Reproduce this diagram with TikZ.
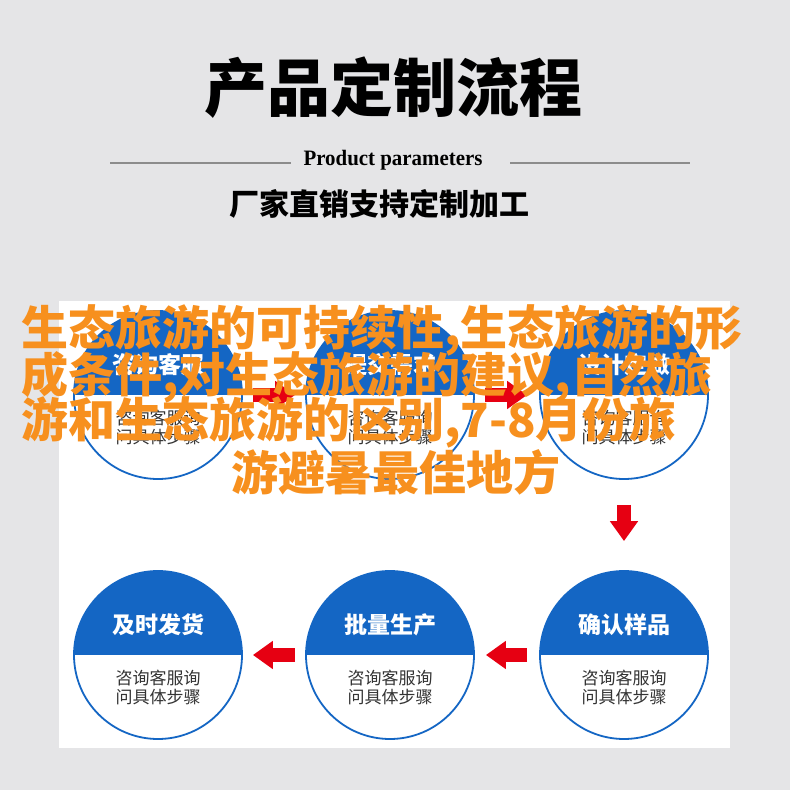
\documentclass[tikz,border=0pt]{standalone}
\usepackage{fontspec}
\setmainfont{Liberation Serif}
\newfontfamily\cjk{Noto Sans CJK SC}
\usetikzlibrary{arrows.meta}
\definecolor{bggray}{HTML}{E5E5E7}
\definecolor{cblue}{HTML}{1466C4}
\definecolor{ared}{HTML}{E60012}
\definecolor{orng}{HTML}{F7901E}
\definecolor{sub}{HTML}{333333}
\definecolor{rule}{HTML}{8C8C8C}
\tikzset{
  stage/.style={circle, draw=cblue, line width=1.8pt, minimum size=168pt, inner sep=0pt},
  head/.style={font=\cjk\bfseries\fontsize{23}{23}\selectfont, text=white, inner sep=0pt},
  body/.style={font=\cjk\fontsize{17}{19}\selectfont, text=sub, align=center, inner sep=0pt},
  blockarrow/.style={draw=ared, line width=14pt, -{Triangle[width=27pt,length=20pt]}},
  overlay/.style={font=\cjk\bfseries\fontsize{47}{47}\selectfont, text=orng, inner sep=0pt}
}
\begin{document}
\begin{tikzpicture}[x=1pt,y=1pt]
\fill[bggray] (0,0) rectangle (790,790);
\useasboundingbox (0,0) rectangle (790,790);
% header
\node[font=\cjk\bfseries\fontsize{63}{63}\selectfont, inner sep=0pt] (title) at (393,702) {产品定制流程};
\node[font=\bfseries\fontsize{22}{22}\selectfont, inner sep=0pt] (sub) at (393,630) {\scalebox{0.95}[1]{Product parameters}};
\coordinate (l1) at (110,627);
\coordinate (l2) at (291,627);
\coordinate (r1) at (510,627);
\coordinate (r2) at (690,627);
\draw[rule, line width=1.2pt] (l1) -- (l2);
\draw[rule, line width=1.2pt] (r1) -- (r2);
\node[font=\cjk\bfseries\fontsize{30}{30}\selectfont, inner sep=0pt] (tag) at (379,586) {厂家直销支持定制加工};
% panel
\fill[white] (59,42) rectangle (730,489);
% half fills
\foreach \x/\y in {158/395,390/395,624/395,158/135,390/135,624/135}{
  \fill[cblue] (\x+84,\y) arc[start angle=0,end angle=180,radius=84] -- cycle;
}
\node[stage] (c1) at (158,395) {};
\node[stage] (c2) at (390,395) {};
\node[stage] (c3) at (624,395) {};
\node[stage] (c4) at (158,135) {};
\node[stage] (c5) at (390,135) {};
\node[stage] (c6) at (624,135) {};
\node[head] (h1) at (158,425) {咨询客服};
\node[head] (h2) at (390,425) {提交需求};
\node[head] (h3) at (624,425) {设计定做};
\node[head] (h4) at (158,165) {及时发货};
\node[head] (h5) at (390,165) {批量生产};
\node[head] (h6) at (624,165) {确认样品};
\foreach \n/\x/\y in {b1/158/395,b2/390/395,b3/624/395,b4/158/135,b5/390/135,b6/624/135}{
  \node[body] (\n) at (\x,\y-32) {咨询客服询\\问具体步骤};
}
% arrows
\draw[blockarrow] ([xshift=10pt]c1.east) -- ([xshift=-10pt]c2.west);
\draw[blockarrow] ([xshift=10pt]c2.east) -- ([xshift=-12pt]c3.west);
\draw[blockarrow] ([yshift=-25pt]c3.south) -- ([yshift=29pt]c6.north);
\draw[blockarrow] ([xshift=-12pt]c6.west) -- ([xshift=11pt]c5.east);
\draw[blockarrow] ([xshift=-10pt]c5.west) -- ([xshift=10pt]c4.east);
% overlay text
\node[overlay, anchor=west] (o1) at (21,460) {生态旅游的可持续性,生态旅游的形};
\node[overlay, anchor=west] (o2) at (21,413) {成条件,对生态旅游的建议,自然旅};
\node[overlay, anchor=west] (o3) at (21,368) {游和生态旅游的区别,7-8月份旅};
\node[overlay] (o4) at (396,318) {游避暑最佳地方};
\end{tikzpicture}
\end{document}
